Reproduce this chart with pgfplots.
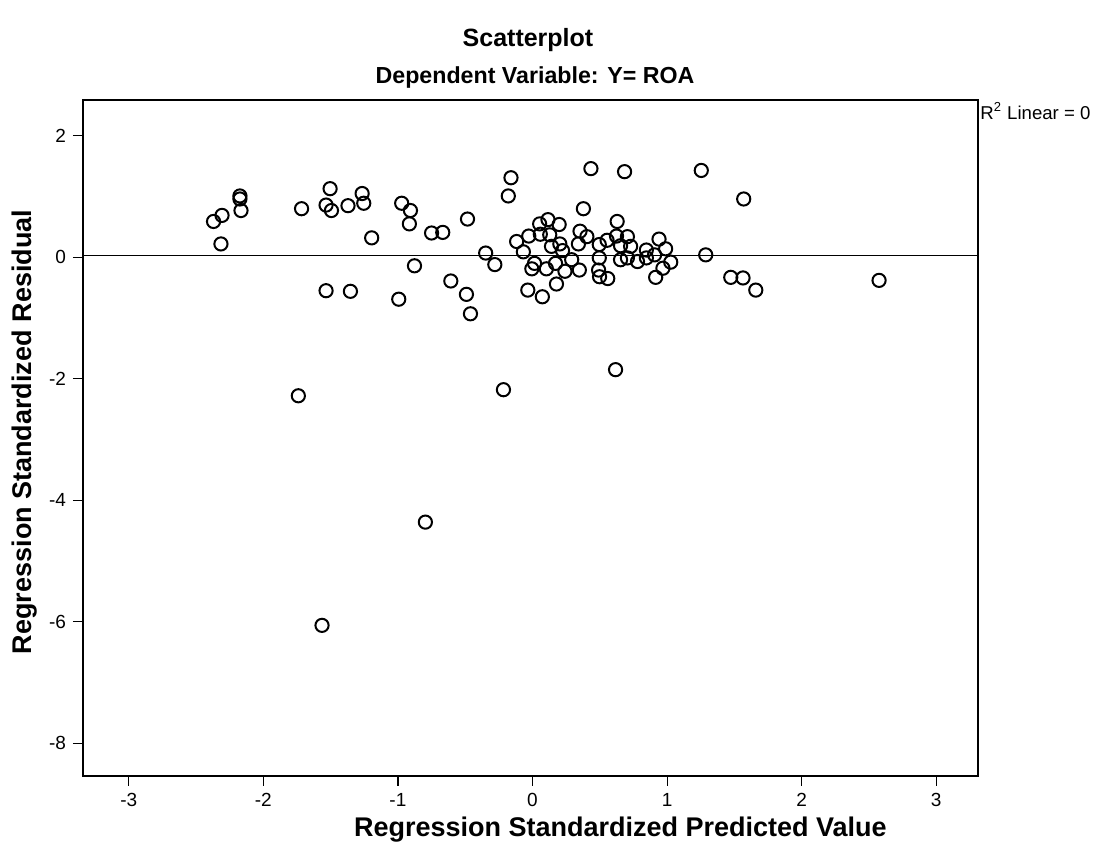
\documentclass[border=0pt]{standalone}
\usepackage{fontspec}
\setmainfont{Liberation Sans}
\usepackage{pgfplots}
\pgfplotsset{compat=1.18}
\usetikzlibrary{calc}

\begin{document}
\begin{tikzpicture}
\begin{axis}[
  name=ax,
  scale only axis,
  width=447.5pt, height=338pt,
  xmin=-3.34, xmax=3.31,
  ymin=-8.54, ymax=2.59,
  xtick={-3,-2,-1,0,1,2,3},
  ytick={-8,-6,-4,-2,0,2},
  xtick pos=bottom, ytick pos=left,
  tick align=outside,
  major tick length=5pt,
  tick style={black, line width=0.6pt},
  axis line style={black, line width=0.8pt},
  /pgf/number format/assume math mode=true,
  tick label style={font=\fontsize{9.5}{11}\selectfont},
  clip=false,
]
% fit line (R^2 linear = 0)
\addplot[black, line width=0.6pt] coordinates {(-3.34,0.03) (3.31,0.03)};
\addplot[only marks, mark=o, mark size=3.3pt, mark options={black, line width=1pt}] coordinates {
(-2.370,0.59) (-2.307,0.69) (-2.315,0.22) (-2.174,1.01) (-2.174,0.96) (-2.166,0.77)
(-1.716,0.80) (-1.504,1.13) (-1.534,0.86) (-1.494,0.77) (-1.371,0.85) (-1.266,1.05)
(-1.254,0.89) (-1.195,0.32) (-0.972,0.89) (-0.907,0.77) (-0.915,0.55) (-0.750,0.40)
(-0.667,0.41) (-0.483,0.63) (-0.160,1.31) (-0.180,1.01) (0.434,1.46) (0.378,0.80)
(-0.348,0.07) (-0.280,-0.12) (-0.877,-0.14) (-1.534,-0.55) (-1.353,-0.56) (-0.994,-0.69)
(-0.607,-0.39) (-0.491,-0.61) (-0.461,-0.93)
(0.684,1.41) (1.254,1.43) (1.569,0.96) (0.629,0.59) (0.053,0.55) (0.115,0.62)
(0.198,0.54) (-0.118,0.26) (-0.028,0.35) (0.058,0.38) (0.128,0.37) (-0.068,0.09)
(0.141,0.18) (0.203,0.22) (0.223,0.11) (0.353,0.43) (0.404,0.34) (0.341,0.22)
(0.015,-0.10) (-0.005,-0.19) (0.103,-0.19) (0.171,-0.10) (0.241,-0.23) (0.291,-0.04)
(0.348,-0.21) (0.178,-0.44) (-0.035,-0.54) (0.073,-0.65) (0.496,0.21) (0.554,0.28)
(0.624,0.35) (0.705,0.34) (0.654,0.19) (0.729,0.18) (0.496,-0.01) (0.491,-0.21)
(0.498,-0.32) (0.559,-0.35) (0.654,-0.04) (0.705,-0.01) (0.780,-0.07) (0.846,0.12)
(0.846,-0.01) (0.907,0.04) (0.940,0.30) (0.989,0.14) (0.969,-0.18) (0.915,-0.33)
(1.027,-0.08) (1.287,0.04) (1.473,-0.33) (1.564,-0.34) (1.659,-0.54) (2.575,-0.38)
(-1.740,-2.28) (-0.216,-2.18) (0.617,-1.85) (-0.796,-4.36) (-1.564,-6.06)
};
\end{axis}
\node[anchor=north west, inner sep=1pt, font=\fontsize{9.3}{11}\selectfont] at (ax.north east) {R\textsuperscript{2} Linear = 0};
\node[font=\bfseries\fontsize{12.5}{14}\selectfont] at ($(ax.south west)+(222.5pt,368pt)$) {Scatterplot};
\node[font=\bfseries\fontsize{11.6}{13}\selectfont] at ($(ax.south west)+(226pt,349pt)$) {Dependent Variable: Y= ROA};
\node[anchor=west, font=\bfseries\fontsize{13.5}{15}\selectfont] at ($(ax.south west)+(132pt,-27pt)$) {Regression Standardized Predicted Value};
\node[font=\bfseries\fontsize{13.5}{15}\selectfont, rotate=90] at ($(ax.south west)+(-29pt,172pt)$) {Regression Standardized Residual};
\pgfresetboundingbox
\path[use as bounding box] ($(ax.south west)+(-41.5pt,-42pt)$) rectangle ($(ax.south west)+(510.5pt,388pt)$);
\end{tikzpicture}
\end{document}
